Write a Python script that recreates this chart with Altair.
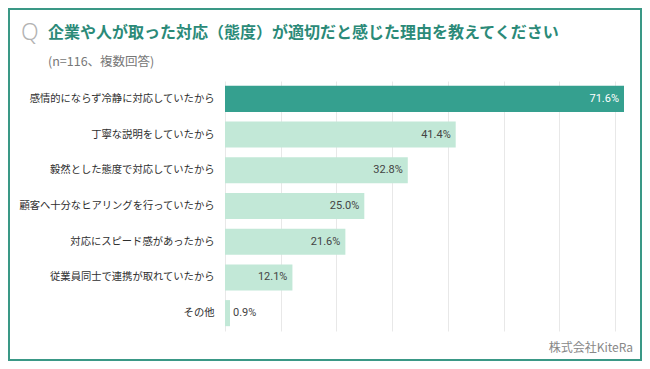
import altair as alt
import pandas as pd

categories = [
    "感情的にならず冷静に対応していたから",
    "丁寧な説明をしていたから",
    "毅然とした態度で対応していたから",
    "顧客へ十分なヒアリングを行っていたから",
    "対応にスピード感があったから",
    "従業員同士で連携が取れていたから",
    "その他",
]
values = [71.6, 41.4, 32.8, 25.0, 21.6, 12.1, 0.9]
grid_ticks = [0, 10, 20, 30, 40, 50, 60, 70]

q_mark = "Q"
title_text = "企業や人が取った対応（態度）が適切だと感じた理由を教えてください"
subtitle_text = "(n=116、複数回答)"
footer_text = "株式会社KiteRa"

FONT = "Noto Sans CJK JP"
TEAL_DARK = "#35a08f"
TEAL_LIGHT = "#c2e8d7"
BORDER = "#3a9886"
TITLE_COLOR = "#2b8a78"

df = pd.DataFrame({"category": categories, "value": values})
df["label"] = [f"{v:.1f}%" for v in values]

base = alt.Chart(df)

x_scale = alt.Scale(domain=[0, 71.6], nice=False, zero=True)
y_scale = alt.Scale(paddingInner=0.27, paddingOuter=0.135)

bars = base.mark_bar().encode(
    x=alt.X(
        "value:Q",
        scale=x_scale,
        axis=alt.Axis(
            values=grid_ticks, labels=False, ticks=False, domain=False,
            title=None, grid=True, gridColor="#e8e8e8", gridWidth=1,
        ),
    ),
    y=alt.Y(
        "category:N",
        sort=categories,
        scale=y_scale,
        axis=alt.Axis(
            title=None, ticks=False, domain=False, labelPadding=11,
            labelFont=FONT, labelFontSize=10.3, labelColor="#2e2e2e",
            labelLimit=300,
        ),
    ),
    color=alt.condition(
        alt.datum.category == categories[0],
        alt.value(TEAL_DARK),
        alt.value(TEAL_LIGHT),
    ),
)

inside = base.transform_filter(alt.datum.value > 5).mark_text(
    align="right", baseline="middle", dx=-5, font="Roboto", fontSize=11
).encode(
    x=alt.X("value:Q", scale=x_scale),
    y=alt.Y("category:N", sort=categories, scale=y_scale),
    text="label:N",
    color=alt.condition(
        alt.datum.category == categories[0],
        alt.value("#ffffff"),
        alt.value("#444444"),
    ),
)

outside = base.transform_filter(alt.datum.value <= 5).mark_text(
    align="left", baseline="middle", dx=3, font="Roboto", fontSize=11, color="#444444"
).encode(
    x=alt.X("value:Q", scale=x_scale),
    y=alt.Y("category:N", sort=categories, scale=y_scale),
    text="label:N",
)

def deco_text(txt, x, y, **kw):
    return alt.Chart(pd.DataFrame({"t": [txt]})).mark_text(
        baseline="middle", **kw
    ).encode(text="t:N", x=alt.value(x), y=alt.value(y))

q_layer = deco_text(q_mark, -204, -48, align="left", font="Noto Sans",
                    fontSize=23, fontWeight=300, color="#b3b3b3")
title_layer = deco_text(title_text, -177, -48.5, align="left", font=FONT,
                        fontSize=16, fontWeight="bold", color=TITLE_COLOR)
subtitle_layer = deco_text(subtitle_text, -177, -19.5, align="left", font=FONT,
                           fontSize=12.5, color="#777777")
footer_layer = deco_text(footer_text, 408, 267, align="right", font=FONT,
                         fontSize=12, color="#888888")

border = alt.Chart(pd.DataFrame({"a": [0]})).mark_rect(
    fill=None, stroke=BORDER, strokeWidth=2
).encode(
    x=alt.value(-216), x2=alt.value(416), y=alt.value(-72), y2=alt.value(279)
)

chart = alt.layer(
    bars, inside, outside, q_layer, title_layer, subtitle_layer, footer_layer, border
).properties(
    width=399,
    height=250,
    autosize=alt.AutoSizeParams(type="none"),
    padding={"left": 217, "top": 73, "right": 18, "bottom": 30},
    background="white",
).configure_view(stroke=None)

chart.save("out.html", embed_options={"renderer": "svg", "actions": False})
